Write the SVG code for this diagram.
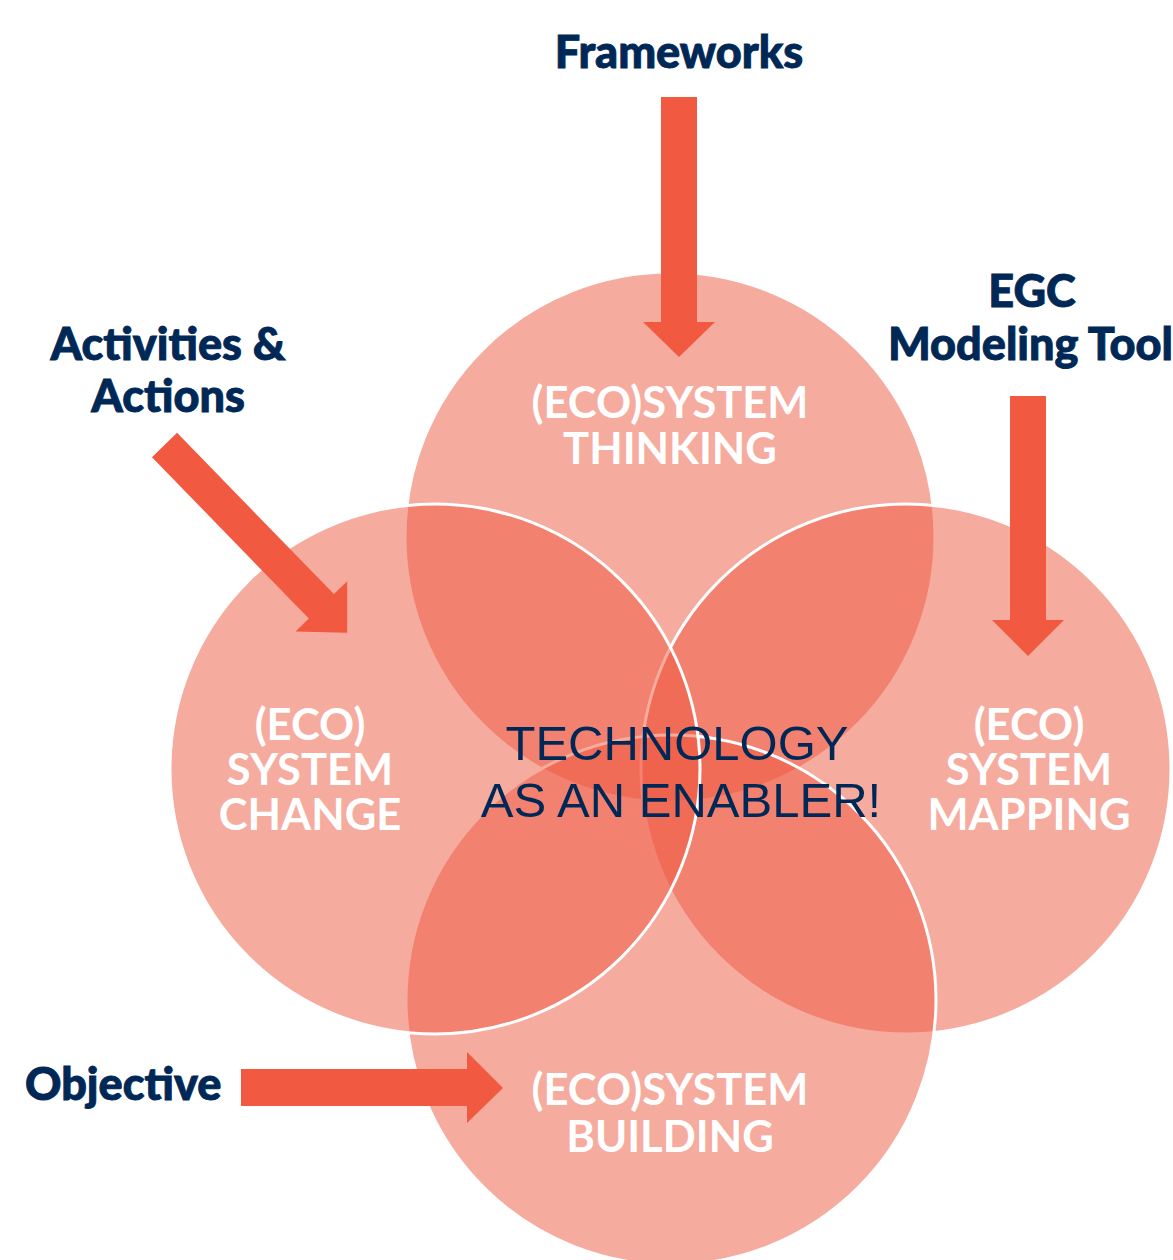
<svg xmlns="http://www.w3.org/2000/svg" width="1173" height="1260" viewBox="0 0 1173 1260">
<style>
.c{fill:#ED573F;fill-opacity:0.5;stroke:#FFFFFF;stroke-width:3}
.cl{font-family:Lato,"Open Sans","Liberation Sans",sans-serif;font-weight:700;font-size:43.5px;fill:#FFFFFF;text-anchor:middle}
.ol{font-family:Lato,"Open Sans","Liberation Sans",sans-serif;font-weight:900;font-size:45px;fill:#002856;stroke:#002856;stroke-width:0.9}
.ar{fill:#F15A40}
.ct{font-family:"Liberation Sans",Arial,sans-serif;font-size:49px;fill:#002856;text-anchor:middle}
</style>
<rect width="1173" height="1260" fill="#FFFFFF"/>
<g id="node-thinking"><circle class="c" cx="670" cy="537" r="265"/></g>
<g id="node-mapping"><circle class="c" cx="906" cy="769" r="265"/></g>
<g id="node-building"><circle class="c" cx="671" cy="1000" r="265"/></g>
<g id="node-change"><circle class="c" cx="435" cy="769" r="265"/></g>
<g id="connectors">
<polygon class="ar" points="661,97 697,97 697,322 715,322 679,357 643,322 661,322"/>
<polygon class="ar" points="1010,396 1046,396 1046,620 1064,620 1028,656 992,620 1010,620"/>
<polygon class="ar" points="241,1069 467,1069 467,1052 503,1088 467,1123 467,1106 241,1106"/>
<polygon class="ar" transform="translate(164.5,445) rotate(45.8)" points="0,-17.5 225,-17.5 225,-36 262,0 225,36 225,17.5 0,17.5"/>
</g>
<g id="label-thinking"><text class="cl" x="670" y="418">(ECO)SYSTEM</text><text class="cl" x="670" y="464">THINKING</text></g>
<g id="label-change"><text class="cl" x="310" y="740">(ECO)</text><text class="cl" x="310" y="785">SYSTEM</text><text class="cl" x="310" y="830">CHANGE</text></g>
<g id="label-mapping"><text class="cl" x="1029" y="740">(ECO)</text><text class="cl" x="1029" y="785">SYSTEM</text><text class="cl" x="1029" y="830">MAPPING</text></g>
<g id="label-building"><text class="cl" x="670" y="1105">(ECO)SYSTEM</text><text class="cl" x="670" y="1152">BUILDING</text></g>
<g id="node-center"><text class="ct" x="677" y="760">TECHNOLOGY</text><text class="ct" x="681" y="817">AS AN ENABLER!</text></g>
<g id="node-frameworks"><text class="ol" x="679" y="68" text-anchor="middle">Frameworks</text></g>
<g id="node-activities"><text class="ol" x="168" y="360" text-anchor="middle">Activities &amp;</text><text class="ol" x="168" y="412" text-anchor="middle">Actions</text></g>
<g id="node-egc"><text class="ol" x="1032" y="307" text-anchor="middle">EGC</text><text class="ol" x="888" y="360">Modeling Tool</text></g>
<g id="node-objective"><text class="ol" x="25" y="1100">Objective</text></g>
</svg>
